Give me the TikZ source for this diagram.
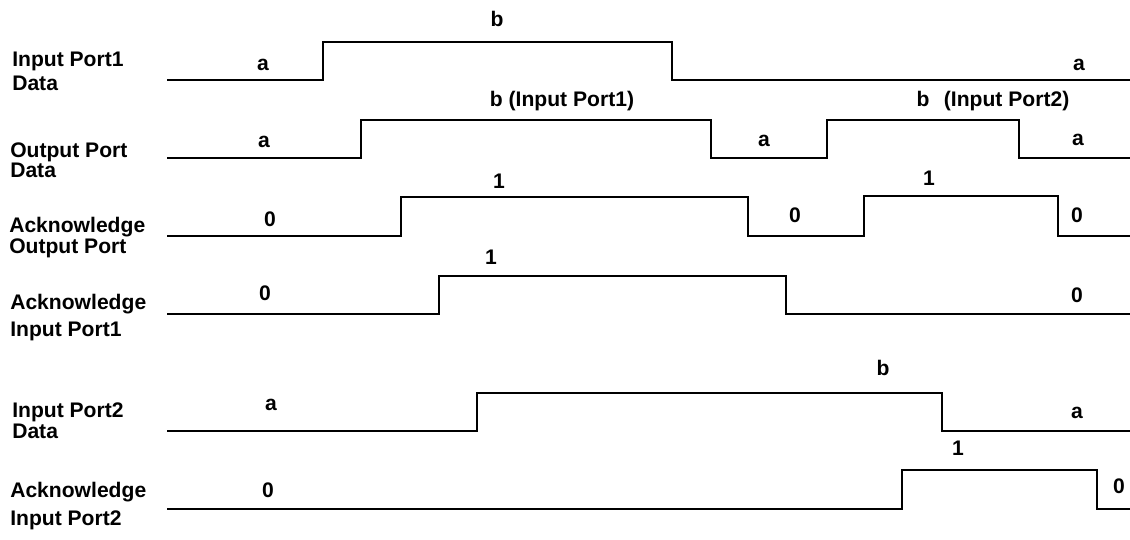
\documentclass[tikz,border=0pt]{standalone}
\usepackage{fontspec}
\setmainfont{Liberation Sans}
\tikzset{>=latex}
\tikzset{
  wave/.style={black, line width=1.5pt},
  sig/.style={black, anchor=base west, align=left, inner sep=0pt},
  val/.style={black, anchor=base, inner sep=0pt},
}

\begin{document}
\begin{tikzpicture}[x=0.025cm, y=-0.025cm, font=\fontsize{15}{17}\selectfont\bfseries]
            \useasboundingbox (0,0) rectangle (1130,539);
            % signal names (placed at the baseline of the second line)
            \node[sig] (ip1) at (12,90) {Input Port1\\[-0.6pt]Data};
            \node[sig] (op) at (10,177) {Output Port\\[-2.8pt]Data};
            \node[sig] (ackop) at (9,253) {Acknowledge\\[-2.1pt]Output Port};
            \node[sig] (ackip1) at (10,336) {Acknowledge\\[2.2pt]Input Port1};
            \node[sig] (ip2) at (12,438) {Input Port2\\[-2.1pt]Data};
            \node[sig] (ackip2) at (10,525) {Acknowledge\\[2.9pt]Input Port2};
            % waveforms
            \draw[wave] (167,80) -- (323,80) -- (323,42) -- (672,42) -- (672,80) -- (1130,80);
            \draw[wave] (167,158) -- (361,158) -- (361,120) -- (711,120) -- (711,158)
                        -- (827,158) -- (827,120) -- (1019,120) -- (1019,158) -- (1130,158);
            \draw[wave] (167,236) -- (401,236) -- (401,197) -- (748,197) -- (748,236)
                        -- (864,236) -- (864,196) -- (1058,196) -- (1058,236) -- (1130,236);
            \draw[wave] (167,314) -- (439,314) -- (439,276) -- (786,276) -- (786,314) -- (1130,314);
            \draw[wave] (167,431) -- (477,431) -- (477,393) -- (942,393) -- (942,431) -- (1130,431);
            \draw[wave] (167,509) -- (902,509) -- (902,470) -- (1097,470) -- (1097,509) -- (1130,509);
            % values
            \node[val] (v1a) at (263,70) {a};
            \node[val] (v1b) at (497,26) {b};
            \node[val] (v1c) at (1079,70) {a};
            \node[val] (v2a) at (264,147) {a};
            \node[val] (v2b) at (562,106) {b (Input Port1)};
            \node[val] (v2c) at (764,146) {a};
            \node[val] (v2d) at (993,106) {b\hspace{0.4em} (Input Port2)};
            \node[val] (v2e) at (1078,145) {a};
            \node[val] (v3a) at (270,226) {0};
            \node[val] (v3b) at (499,188) {1};
            \node[val] (v3c) at (795,222) {0};
            \node[val] (v3d) at (929,185) {1};
            \node[val] (v3e) at (1077,222) {0};
            \node[val] (v4a) at (265,300) {0};
            \node[val] (v4b) at (491,264) {1};
            \node[val] (v4c) at (1077,302) {0};
            \node[val] (v5a) at (271,410) {a};
            \node[val] (v5b) at (883,375) {b};
            \node[val] (v5c) at (1077,418) {a};
            \node[val] (v6a) at (268,497) {0};
            \node[val] (v6b) at (958,455) {1};
            \node[val] (v6c) at (1119,493) {0};
        \end{tikzpicture}
\end{document}
